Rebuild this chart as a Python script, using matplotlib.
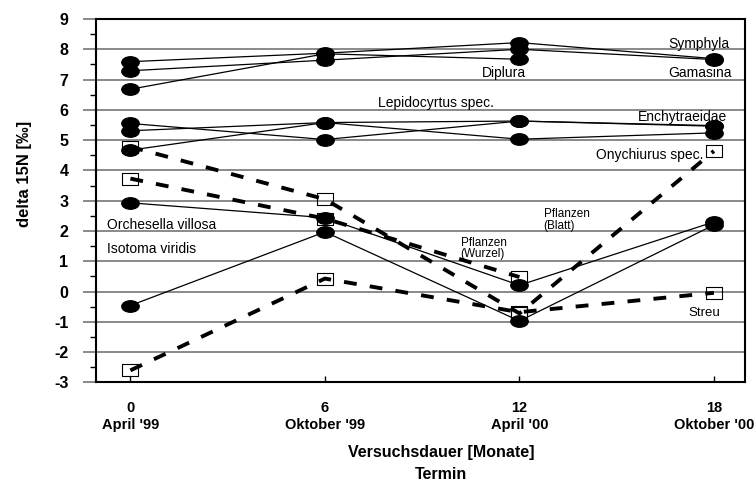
import numpy as np
import matplotlib.pyplot as plt
from matplotlib.path import Path

plt.rcParams['font.family'] = ['Liberation Sans', 'DejaVu Sans']
plt.rcParams['axes.unicode_minus'] = False

# Versuchsdauer in Monaten und Termine
monate = [0, 6, 12, 18]
termine = ["April '99", "Oktober '99", "April '00", "Oktober '00"]

# Tiere: volle Punkte, durchgezogene Linien (delta 15N in Promille)
symphyla = [7.59, 7.87, 8.22, 7.69]
gamasina = [7.29, 7.64, 8.00, 7.66]
diplura = [6.68, 7.85, 7.67, np.nan]
lepidocyrtus = [5.55, 5.02, 5.63, 5.46]
enchytraeidae = [5.31, 5.58, 5.63, 5.48]
onychiurus = [4.67, 5.58, 5.03, 5.24]
orchesella = [2.93, 2.44, 0.21, 2.30]
isotoma = [-0.46, 1.97, -0.97, 2.20]

# Pflanzen und Streu: offene Quadrate, gestrichelt
blatt = [4.78, 3.05, -0.72, 4.64]
wurzel = [3.73, 2.41, 0.48, np.nan]
streu = [-2.60, 0.43, -0.68, -0.04]

tiere = [symphyla, gamasina, diplura, lepidocyrtus, enchytraeidae,
         onychiurus, orchesella, isotoma]
pflanzen = [blatt, wurzel, streu]

# Beschriftungen im Diagramm: (Text, x, y, Ausrichtung, Groesse)
beschriftungen = [
    ("Symphyla", 18.49, 8.17, 'right', 10),
    ("Gamasina", 18.55, 7.22, 'right', 10),
    ("Diplura", 11.52, 7.22, 'center', 10),
    ("Lepidocyrtus spec.", 9.43, 6.23, 'center', 10),
    ("Enchytraeidae", 18.40, 5.77, 'right', 10),
    ("Onychiurus spec.", 17.66, 4.50, 'right', 10),
    ("Orchesella villosa", -0.72, 2.19, 'left', 10),
    ("Isotoma viridis", -0.72, 1.39, 'left', 10),
    ("Pflanzen\n(Blatt)", 12.75, 2.36, 'left', 8.5),
    ("Pflanzen\n(Wurzel)", 10.19, 1.43, 'left', 8.5),
    ("Streu", 18.18, -0.72, 'right', 9.5),
]

# Marker: gestauchte Ellipse und flaches Rechteck
kreis = Path.unit_circle()
ellipse = Path(kreis.vertices * [1.0, 0.66], kreis.codes)
rechteck = Path([(-1, -0.68), (1, -0.68), (1, 0.68), (-1, 0.68), (-1, -0.68)],
                [Path.MOVETO, Path.LINETO, Path.LINETO, Path.LINETO, Path.CLOSEPOLY])

fig = plt.figure(figsize=(7.55, 4.86), dpi=100)
ax = fig.add_axes([0.1272, 0.213, 0.8596, 0.748])

for werte in pflanzen:
    ax.plot(monate, werte, color='black', lw=2.8, dashes=(3.3, 3.4),
            marker=rechteck, ms=12, mfc='none', mec='black', mew=0.8, zorder=3)

for werte in tiere:
    ax.plot(monate, werte, color='black', lw=0.9, marker=ellipse, ms=12.5,
            mfc='black', mec='black', zorder=4)

for text, x, y, ha, size in beschriftungen:
    ax.text(x, y, text, ha=ha, va='center', fontsize=size, linespacing=0.95, zorder=5)

ax.set_xlim(-1.06, 18.96)
ax.set_ylim(-3, 9)
ax.set_yticks(range(-3, 10))
ax.set_yticks(np.arange(-2.5, 9, 1.0), minor=True)
ax.set_xticks(monate)
ax.set_xticklabels([f"{m}\n{t}" for m, t in zip(monate, termine)])

ax.set_axisbelow(True)
ax.yaxis.grid(True, color='#808080', lw=1.3)

ax.tick_params(axis='y', which='major', direction='out', length=9.5, width=1.3,
               color='#808080', pad=10.5, labelsize=11.5)
ax.tick_params(axis='y', which='minor', direction='out', length=4.3, width=1, color='black')
ax.tick_params(axis='x', direction='in', length=4.3, width=1, pad=13, labelsize=10.5)

for lab in ax.get_xticklabels():
    lab.set_fontweight('bold')
    lab.set_linespacing(1.3)
for lab in ax.get_yticklabels():
    lab.set_fontweight('bold')

for spine in ax.spines.values():
    spine.set_linewidth(1.5)
    spine.set_color('black')

ax.set_xlabel("Versuchsdauer [Monate]\nTermin", fontsize=11.5, fontweight='bold', linespacing=1.6)
ax.xaxis.set_label_coords(0.532, -0.172)
ax.set_ylabel("delta 15N [‰]", fontsize=12, fontweight='bold')
ax.yaxis.set_label_coords(-0.099, 0.573)

fig.savefig('out.png', dpi=100)
